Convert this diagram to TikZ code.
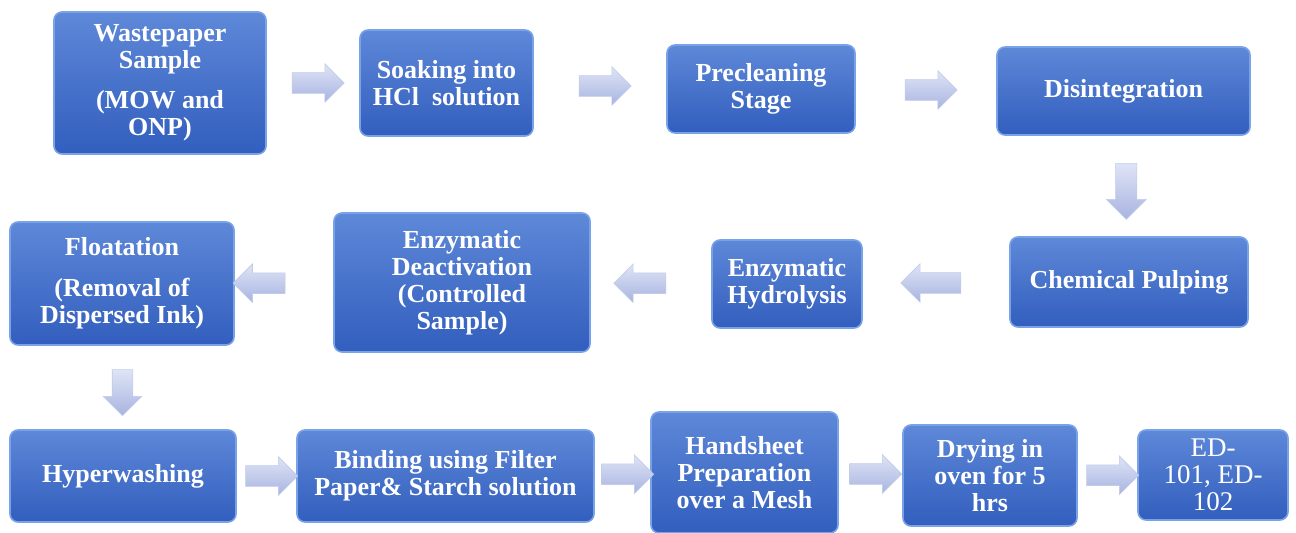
\documentclass[tikz,border=0pt]{standalone}
\usepackage{fontspec}
\setmainfont{Liberation Serif}
\usetikzlibrary{shapes.arrows,calc}

\definecolor{boxtop}{RGB}{94,136,216}
\definecolor{boxbot}{RGB}{50,94,190}
\definecolor{boxedge}{RGB}{122,162,232}
\definecolor{arrtop}{RGB}{222,228,246}
\definecolor{arrbot}{RGB}{168,180,224}

\tikzset{
	stage/.style={rectangle, rounded corners=4pt, top color=boxtop, bottom color=boxbot,
		draw=boxedge, line width=0.8pt, text=white, align=center, inner sep=2pt,
		font=\bfseries\fontsize{13}{13.5}\selectfont},
	sz/.style 2 args={minimum width=#1*0.5pt, minimum height=#2*0.5pt},
	blk/.style={single arrow, top color=arrtop, bottom color=arrbot, draw=arrbot!70!white,
		line width=0.3pt, inner sep=5pt, minimum width=19pt, minimum height=26pt,
		single arrow head extend=4.5pt},
}

\begin{document}
\begin{tikzpicture}[x=0.5pt,y=-0.5pt]
		\path[use as bounding box] (0,0) rectangle (1296,533);
		\begin{scope}
			% first row
			\node[stage, sz={212}{142}] (waste) at (160,83) {Wastepaper\\Sample\\[6.5pt](MOW and\\ONP)};
			\node[stage, sz={173}{106}] (soak) at (446.5,83) {Soaking into\\HCl\ \ solution};
			\node[stage, sz={188}{88}] (preclean) at (761,89) {Precleaning\\Stage};
			\node[stage, sz={253}{88}] (disint) at (1123.5,91) {Disintegration};
	
			% second row
			\node[stage, sz={238}{90}] (chem) at (1129,282) {Chemical Pulping};
			\node[stage, sz={150}{88}] (hydro) at (787,284) {Enzymatic\\Hydrolysis};
			\node[stage, sz={256}{139}] (deact) at (462,282.5) {Enzymatic\\Deactivation\\(Controlled\\Sample)};
			\node[stage, sz={224}{123}] (float) at (122,283.5) {Floatation\\[7pt](Removal of\\Dispersed Ink)};
		
			% third row
			\node[stage, sz={226}{92}] (hyper) at (123,476) {Hyperwashing};
			\node[stage, sz={297}{92}] (bind) at (445.5,476) {Binding using Filter\\Paper\& Starch solution};
			\node[stage, sz={187}{121}] (hand) at (744.5,472.5) {Handsheet\\Preparation\\over a Mesh};
			\node[stage, sz={174}{101}] (dry) at (990,475.5) {Drying in\\oven for 5\\hrs};
			\node[stage, sz={150}{90}, font=\mdseries\fontsize{13.5}{13.5}\selectfont] (ed) at (1213,475) {ED-\\101, ED-\\102};
		
			% block arrows
			\node[blk] (a1) at ($(waste.east)!0.5!(soak.west)$) {};
			\node[blk] (a2) at ($(soak.east)!0.5!(preclean.west)$) {};
			\node[blk] (a3) at ($(preclean.east)!0.5!(disint.west)$) {};
			\node[blk, shape border rotate=270, minimum height=28pt, minimum width=20pt] (a4) at ($(disint.south)!0.5!(chem.north)$) {};
			\node[blk, shape border rotate=180, minimum height=30pt] (a5) at ($(chem.west)!0.5!(hydro.east)$) {};
			\node[blk, shape border rotate=180] (a6) at ($(hydro.west)!0.55!(deact.east)$) {};
			\node[blk, shape border rotate=180] (a7) at ($(float.east)!0.3!(deact.west)$) {};
			\node[blk, shape border rotate=270, minimum height=23pt] (a8) at ($(float.south)!0.5!(hyper.north)$) {};
			\node[blk] (a9) at ($(hyper.east)!0.5!(bind.west)$) {};
			\node[blk] (a10) at ($(bind.east)!0.5!(hand.west)$) {};
			\node[blk] (a11) at ($(hand.east)!0.5!(dry.west)$) {};
			\node[blk] (a12) at ($(dry.east)!0.5!(ed.west)$) {};
		\end{scope}
	\end{tikzpicture}
\end{document}
